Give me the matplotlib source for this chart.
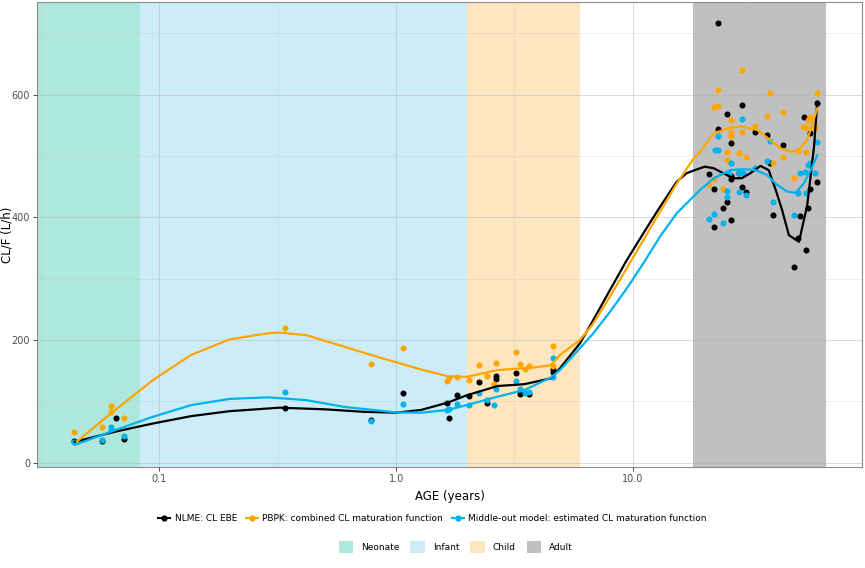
import matplotlib
matplotlib.use("Agg")
import matplotlib.pyplot as plt
from matplotlib.lines import Line2D
from matplotlib.patches import Patch
import matplotlib.ticker as mticker

# ---------------- data ----------------
# Age bands (years)
band_names = ["Neonate", "Infant", "Child", "Adult"]
band_start = [0.0, 1/12, 2.0, 18.0]
band_end = [1/12, 2.0, 6.0, 65.0]
band_colors = ["#AEE8DC", "#CCECF8", "#FDE6BF", "#C0C0C0"]

# NLME: CL EBE points
nlme_age = [0.0439, 0.0574, 0.0657, 0.071, 0.34, 0.783, 1.066, 1.645, 1.672, 1.813,
            2.04, 2.24, 2.41, 2.63, 2.63, 3.2, 3.33, 3.65, 4.58, 4.6,
            22.9, 28.9, 60.0, 24.9, 52.9, 22.9, 32.8, 36.9, 56.0, 25.85,
            42.9, 37.9, 20.9, 22.0, 25.85, 25.85, 28.1, 28.9, 30.0, 24.9,
            23.9, 25.85, 22.0, 38.9, 50.7, 56.0, 54.95, 59.8, 49.7, 53.5, 47.8]
nlme_cl = [36, 36, 73, 38, 90, 70, 114, 98, 73, 110,
           109, 131, 97, 142, 136, 147, 112, 112, 152, 148,
           716, 583, 586, 568, 564, 544, 539, 535, 537, 521,
           518, 488, 470, 446, 467, 462, 473, 450, 442, 425,
           415, 396, 385, 403, 402, 446, 416, 457, 367, 347, 319]

# PBPK: combined CL maturation function points
pbpk_age = [0.0439, 0.0574, 0.0628, 0.0628, 0.071, 0.34, 0.783, 1.066, 1.645, 1.672,
            1.813, 2.04, 2.24, 2.41, 2.60, 2.63, 3.2, 3.33, 3.5, 3.65, 4.58, 4.6,
            20.9, 22.0, 22.0, 22.9, 22.9, 23.9, 24.9, 24.9, 25.85, 25.85,
            25.85, 28.1, 28.9, 28.9, 30.0, 32.8, 36.9, 37.9, 38.9, 42.9,
            42.9, 47.8, 49.7, 52.4, 53.5, 53.9, 54.95, 56.0, 58.6, 59.8]
pbpk_cl = [50, 58, 93, 82, 72.5, 219, 161, 187.5, 134, 138,
           140, 135, 159, 142, 128, 163, 180.5, 161, 152, 157.6, 190, 157,
           453, 462, 580, 582, 608, 446, 507, 494, 559, 539,
           532, 505, 640, 539, 499, 549, 565, 602, 488, 571,
           498, 464, 508, 547, 548, 507, 559, 563, 545, 603]

# Middle-out model: estimated CL maturation function points
mo_age = [0.0439, 0.0574, 0.0628, 0.0628, 0.071, 0.34, 0.783, 1.066, 1.645, 1.672,
          1.813, 2.04, 2.24, 2.41, 2.60, 2.63, 3.2, 3.33, 3.5, 3.65, 4.58, 4.6,
          28.9, 22.9, 37.9, 59.8, 22.2, 22.9, 25.85, 36.9, 54.95, 56.0,
          25.4, 28.1, 29.2, 32.8, 24.9, 28.1, 30.0, 24.9, 22.0, 20.9,
          23.9, 38.9, 47.8, 49.7, 53.5, 50.7, 53.0, 58.6]
mo_cl = [33, 37, 58, 54, 44, 115, 68.5, 96, 86, 88,
         96, 94, 114, 103, 94, 120, 134, 120, 114, 115, 170, 140,
         560, 533, 525, 523, 509, 510, 488, 492, 485, 488,
         470, 473, 472, 480, 443.5, 442, 436, 433, 405.5, 397,
         391, 425, 403, 440, 440, 473, 474.5, 472]

# Smoothed curves
nlme_curve_age = [0.0440, 0.0650, 0.0943, 0.1368, 0.1982, 0.3216, 0.5025, 0.729, 0.999, 1.274,
                  1.653, 1.990, 2.68, 3.48, 4.51, 4.92, 5.97, 6.80, 8.0, 9.41,
                  11.06, 13.0, 15.3, 16.85, 19.2, 20.15, 21.9, 24.9, 26.6, 28.8,
                  31.3, 34.5, 37.4, 40.0, 42.6, 45.5, 50.2, 54.4, 58.1, 60.0]
nlme_curve_cl = [34, 50.5, 64, 76, 84, 89.7, 87, 83, 81.5, 86,
                 98, 110, 125, 128, 137.6, 154, 194.6, 232.7, 281.6, 330,
                 374, 417, 458, 472, 480, 482.6, 480, 469, 463.7, 463.7,
                 472, 483.8, 477, 445, 412, 371, 360, 420, 515, 588.6]

pbpk_curve_age = [0.0448, 0.0626, 0.0943, 0.1368, 0.1982, 0.2876, 0.3216, 0.4174, 0.6049, 0.878,
                  1.274, 1.653, 1.990, 2.68, 3.89, 4.51, 4.92, 5.97, 6.80, 8.0,
                  9.41, 11.06, 13.0, 15.3, 17.97, 19.2, 21.9, 25.8, 28.8, 33.4,
                  38.0, 41.9, 46.3, 50.2, 54.4, 60.0]
pbpk_curve_cl = [34, 80.5, 135, 176, 201, 211, 212, 208, 189, 170,
                 152, 141, 140, 151, 155.5, 159, 175.6, 200, 227, 271,
                 317, 363, 409, 455, 495, 507, 537, 546, 548, 542.5,
                 526, 512.6, 507, 510, 526, 578]

mo_curve_age = [0.0440, 0.0650, 0.0943, 0.1368, 0.1982, 0.2876, 0.4174, 0.6049, 0.999, 1.274,
                1.653, 1.990, 2.68, 3.48, 4.51, 4.92, 5.97, 6.80, 8.0, 9.41,
                11.06, 13.0, 15.3, 17.97, 19.2, 21.9, 25.8, 29.3, 32.9, 36.8,
                40.6, 44.8, 48.6, 52.7, 57.2, 60.0]
mo_curve_cl = [29, 53, 75, 94, 104, 106.6, 102, 91, 82, 81.5,
               86, 94, 107.6, 118.5, 139, 151, 186.5, 211, 246, 284,
               325, 368.5, 406.6, 433.7, 444.6, 463.7, 477, 478.4, 477, 469,
               452.8, 442, 440, 455.6, 482.6, 501.7]

series_labels = ["NLME: CL EBE", "PBPK: combined CL maturation function",
                 "Middle-out model: estimated CL maturation function"]
series_colors = ["#000000", "#FFA500", "#00B2EE"]

y_ticks = [0, 200, 400, 600]
x_ticks = [0.1, 1.0, 10.0]
x_tick_labels = ["0.1", "1.0", "10.0"]

# ---------------- plot ----------------
plt.rcParams['font.family'] = ['DejaVu Sans']
fig = plt.figure(figsize=(8.65, 5.68), dpi=100)
ax = fig.add_axes([0.0428, 0.1778, 0.9537, 0.8187])
ax.set_xscale('log')
xmin, xmax = 0.0305, 92.6
ax.set_xlim(xmin, xmax)
ax.set_ylim(-7, 751)

for s, e, c in zip(band_start, band_end, band_colors):
    ax.axvspan(max(s, xmin), e, color=c, lw=0, zorder=0)

# grid
ax.set_xticks(x_ticks)
ax.set_xticklabels(x_tick_labels)
ax.xaxis.set_minor_locator(mticker.FixedLocator([0.0316, 0.316, 3.16, 31.6]))
ax.xaxis.set_minor_formatter(mticker.NullFormatter())
ax.set_yticks(y_ticks)
ax.yaxis.set_minor_locator(mticker.FixedLocator([100, 300, 500, 700]))
ax.grid(which='major', color='#B0B0B0', lw=0.6, alpha=0.55, zorder=1)
ax.grid(which='minor', color='#C0C0C0', lw=0.4, alpha=0.5, zorder=1)
ax.set_axisbelow(False)
ax.tick_params(which='minor', length=0)
ax.tick_params(which='major', length=3, width=0.6, color='#333333',
               labelsize=7, labelcolor='#4D4D4D', pad=2)

pts = [(nlme_age, nlme_cl), (pbpk_age, pbpk_cl), (mo_age, mo_cl)]
crv = [(nlme_curve_age, nlme_curve_cl), (pbpk_curve_age, pbpk_curve_cl), (mo_curve_age, mo_curve_cl)]
for (pa, pc), col in zip(pts, series_colors):
    ax.scatter(pa, pc, s=19, color=col, zorder=3, lw=0)
for (ca, cc), col in zip(crv, series_colors):
    ax.plot(ca, cc, color=col, lw=1.6, zorder=4, solid_capstyle='round',
            solid_joinstyle='round')

for sp in ax.spines.values():
    sp.set_color('#8C8C8C')
    sp.set_linewidth(0.8)

ax.set_xlabel("AGE (years)", fontsize=8.5, labelpad=4)
ax.set_ylabel("CL/F (L/h)", fontsize=8.5)
ax.yaxis.set_label_coords(-0.029, 0.5)

h1 = [Line2D([], [], color=c, lw=1.5, marker='o', markersize=3.5) for c in series_colors]
leg1 = fig.legend(h1, series_labels, loc='center', bbox_to_anchor=(0.5, 0.087), ncol=3,
                  frameon=False, fontsize=6.5, handlelength=1.3, columnspacing=1.0,
                  handletextpad=0.5)
h2 = [Patch(facecolor=c, edgecolor='none') for c in band_colors]
leg2 = fig.legend(h2, band_names, loc='center', bbox_to_anchor=(0.527, 0.037), ncol=4,
                  frameon=False, fontsize=6.5, handlelength=1.6, handleheight=1.6,
                  columnspacing=1.2, handletextpad=0.9)

fig.savefig("out.png", dpi=100)
